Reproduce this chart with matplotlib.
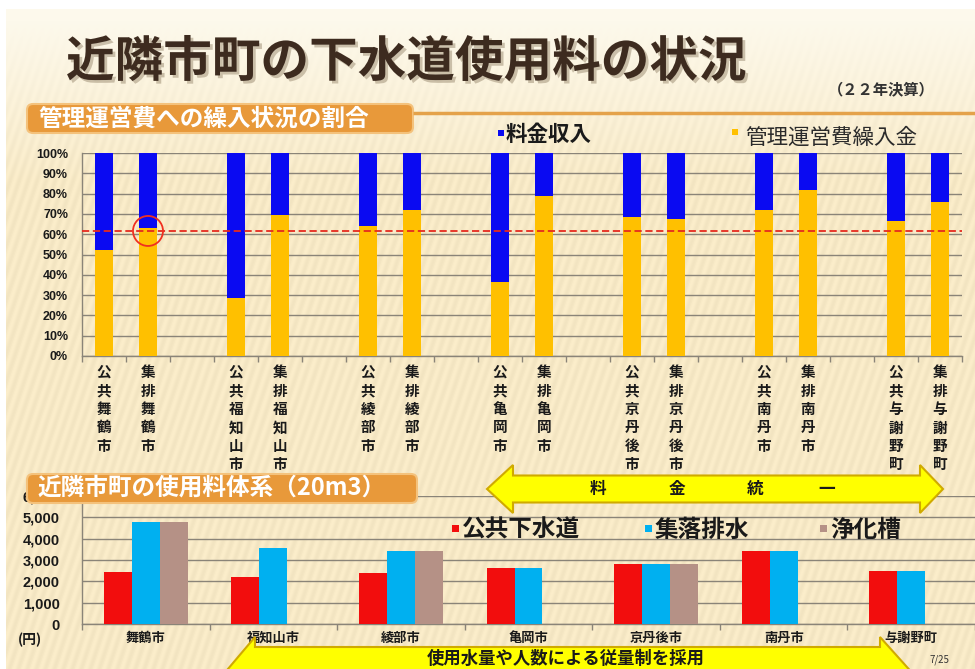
import numpy as np
import matplotlib
matplotlib.use('Agg')
import matplotlib.pyplot as plt
from matplotlib.patches import Rectangle, FancyBboxPatch, Polygon, Ellipse
import matplotlib.patheffects as pe

plt.rcParams['font.family'] = ['Noto Sans CJK JP', 'DejaVu Sans']

W, H = 975, 669

# ---------------- data ----------------
cities = ['舞鶴市', '福知山市', '綾部市', '亀岡市', '京丹後市', '南丹市', '与謝野町']
kinds = ['公共', '集排']
# 管理運営費繰入金 share (%), order: 公共/集排 for each city
transfer_pct = [52, 63, 28.5, 69.5, 64, 72, 36.5, 79, 68.5, 67.5, 72, 82, 66.5, 76]
# 料金収入 share (%)
fee_pct = [48, 37, 71.5, 30.5, 36, 28, 63.5, 21, 31.5, 32.5, 28, 18, 33.5, 24]
ref_line_pct = 61.6
pct_ticks = [0, 10, 20, 30, 40, 50, 60, 70, 80, 90, 100]

# 使用料 (円, 20m3)
sewer_fee = [2440, 2200, 2390, 2630, 2810, 3430, 2490]      # 公共下水道
rural_fee = [4790, 3570, 3430, 2630, 2810, 3430, 2490]      # 集落排水
septic_fee = [4790, np.nan, 3430, np.nan, 2810, np.nan, np.nan]  # 浄化槽
yen_ticks = [0, 1000, 2000, 3000, 4000, 5000, 6000]

# ---------------- colours ----------------
C_BLUE = '#0a0af2'
C_YEL = '#ffc000'
C_RED = '#f20d0d'
C_CYAN = '#00b0f0'
C_BROWN = '#b59186'
C_GRID = '#8a8478'

fig = plt.figure(figsize=(W / 100, H / 100), dpi=100)

# ---------------- background ----------------
bg = fig.add_axes([0, 0, 1, 1], zorder=0)
yy, xx = np.mgrid[0:H, 0:W]
t = np.clip((yy - 20) / 160.0, 0, 1)[..., None]
c1 = np.array([253, 249, 236]) / 255.0
c2 = np.array([247, 233, 198]) / 255.0
img = c1 * (1 - t) + c2 * t
stripe = 0.018 * np.sin(2 * np.pi * (xx + yy / 3.0) / 9.0)
img = np.clip(img + stripe[..., None] * t, 0, 1)
img[:9, :, :] = 1.0
img[:, :6, :] = 1.0
bg.imshow(img, extent=[0, W, H, 0], aspect='auto', interpolation='bilinear')
bg.set_xlim(0, W)
bg.set_ylim(H, 0)
bg.axis('off')

# ---------------- top chart ----------------
ax1 = fig.add_axes([82 / W, 1 - 356 / H, 880 / W, 203 / H], zorder=2)
ax1.patch.set_alpha(0)
pos = [3 * g + j for g in range(len(cities)) for j in range(len(kinds))]
labels_top = ['\n'.join(k + c) for c in cities for k in kinds]
ax1.bar(pos, transfer_pct, width=0.42, color=C_YEL, zorder=3)
ax1.bar(pos, fee_pct, bottom=transfer_pct, width=0.42, color=C_BLUE, zorder=3)
ax1.axhline(ref_line_pct, color='#e52a1e', ls=(0, (4, 2)), lw=1.3, zorder=4)
ax1.add_patch(Ellipse((pos[1], ref_line_pct), width=30 / 44, height=30 / 2.03,
                      fill=False, ec='#f03020', lw=1.3, zorder=5))
ax1.set_xlim(-0.5, 19.5)
ax1.set_ylim(0, 100)
ax1.set_yticks(pct_ticks)
ax1.set_yticklabels([f'{v}%' for v in pct_ticks], fontfamily='Liberation Sans',
                    fontweight='bold', fontsize=9, color='#1a1a1a')
ax1.set_xticks(pos)
ax1.set_xticklabels(labels_top, fontsize=10.5, fontweight='bold', color='#1a1a1a',
                    linespacing=1.18, va='top')
ax1.set_xticks(np.arange(-0.5, 20, 1), minor=True)
ax1.tick_params(axis='x', which='major', length=0, pad=6)
ax1.tick_params(axis='x', which='minor', length=4, color=C_GRID, width=1)
ax1.tick_params(axis='y', length=0, pad=10)
ax1.yaxis.grid(True, color=C_GRID, lw=1.0, zorder=0)
ax1.set_axisbelow(True)
for s in ['top', 'right']:
    ax1.spines[s].set_visible(False)
for s in ['left', 'bottom']:
    ax1.spines[s].set_color(C_GRID)
    ax1.spines[s].set_linewidth(1.0)

# ---------------- bottom chart ----------------
ax2 = fig.add_axes([82 / W, 1 - 624 / H, 893 / W, 128 / H], zorder=2)
ax2.patch.set_alpha(0)
x = np.arange(len(cities))
bw = 0.219
ax2.bar(x - bw, sewer_fee, width=bw, color=C_RED, zorder=3)
ax2.bar(x, rural_fee, width=bw, color=C_CYAN, zorder=3)
ax2.bar(x + bw, septic_fee, width=bw, color=C_BROWN, zorder=3)
ax2.set_xlim(-0.5, 6.35)
ax2.set_ylim(0, 6000)
ax2.set_yticks(yen_ticks)
ax2.set_yticklabels([f'{v:,}' for v in yen_ticks], fontfamily='Liberation Sans',
                    fontweight='bold', fontsize=10.5, color='#1a1a1a')
ax2.set_xticks(x)
ax2.set_xticklabels(cities, fontsize=9.5, fontweight='bold', color='#1a1a1a')
ax2.set_xticks(np.arange(-0.5, 7, 1), minor=True)
ax2.tick_params(axis='x', which='major', length=0, pad=5)
ax2.tick_params(axis='x', which='minor', length=4, color=C_GRID, width=1)
ax2.tick_params(axis='y', length=0, pad=16)
ax2.yaxis.grid(True, color=C_GRID, lw=1.0, zorder=0)
ax2.set_axisbelow(True)
for s in ['top', 'right']:
    ax2.spines[s].set_visible(False)
for s in ['left', 'bottom']:
    ax2.spines[s].set_color(C_GRID)
    ax2.spines[s].set_linewidth(1.0)

# ---------------- overlay (pixel coordinates) ----------------
ov = fig.add_axes([0, 0, 1, 1], zorder=10)
ov.set_xlim(0, W)
ov.set_ylim(H, 0)
ov.axis('off')
ov.patch.set_alpha(0)

# title
ov.text(66, 62, '近隣市町の下水道使用料の状況', fontsize=35, fontweight='bold',
        color='#3d2b1f', ha='left', va='center',
        path_effects=[pe.withSimplePatchShadow(offset=(2, -2), shadow_rgbFace='#9a8a70', alpha=0.5)])
ov.text(828, 89, '（２２年決算）', fontsize=11, fontweight='bold', color='#333333',
        ha='left', va='center')

# section header boxes
for (bx, by, bwid, bh, txt, tx, ty) in [
        (27, 104, 386, 29, '管理運営費への繰入状況の割合', 38, 119),
        (27, 474, 390, 29, '近隣市町の使用料体系（20m3）', 37, 488)]:
    ov.add_patch(FancyBboxPatch((bx, by), bwid, bh,
                                boxstyle='round,pad=0,rounding_size=6',
                                fc='#e8993a', ec='#f4c27c', lw=1.5))
    ov.text(tx, ty, txt, fontsize=17, fontweight='bold', color='white',
            ha='left', va='center')
ov.plot([413, 975], [113, 113], color='#e4a24a', lw=2.5, solid_capstyle='butt')

# top legend
ov.add_patch(Rectangle((498, 130), 6, 6, fc=C_BLUE, ec='none'))
ov.text(506, 134, '料金収入', fontsize=15.5, fontweight='bold', color='#1a1a1a',
        ha='left', va='center')
ov.add_patch(Rectangle((732, 129), 6, 6, fc=C_YEL, ec='none'))
ov.text(745, 138, '管理運営費繰入金', fontsize=15.5, color='#2a2a2a',
        ha='left', va='center')

# bottom legend
for (sx, col, txt) in [(452, C_RED, '公共下水道'), (645, C_CYAN, '集落排水'),
                       (820, C_BROWN, '浄化槽')]:
    ov.add_patch(Rectangle((sx, 525), 7, 7, fc=col, ec='none'))
    ov.text(sx + 10, 530, txt, fontsize=17, fontweight='bold', color='#1a1a1a',
            ha='left', va='center')

# yellow arrow: 料金統一
arrow1 = [(487, 489), (513, 465), (513, 475.5), (920, 475.5), (920, 465), (943, 489),
          (920, 513), (920, 502.5), (513, 502.5), (513, 513)]
ov.add_patch(Polygon(arrow1, closed=True, fc='#ffff00', ec='#d0aa00', lw=1.5))
for (tx, ch) in [(598, '料'), (677, '金'), (755, '統'), (827, '一')]:
    ov.text(tx, 489, ch, fontsize=12, fontweight='bold', color='#1a1a1a',
            ha='center', va='center')

# yellow arrow: 従量制
arrow2 = [(222, 676), (255, 637), (255, 647), (880, 647), (880, 637), (915, 676),
          (880, 715), (880, 705), (255, 705), (255, 715)]
ov.add_patch(Polygon(arrow2, closed=True, fc='#ffff00', ec='#d0aa00', lw=1.5))
ov.text(566, 659, '使用水量や人数による従量制を採用', fontsize=12.5, fontweight='bold',
        color='#1a1a1a', ha='center', va='center')

ov.text(18, 640, '(円)', fontsize=10, fontweight='bold', color='#1a1a1a',
        ha='left', va='center')
ov.text(930, 660, '7/25', fontsize=7, color='#333333', ha='left', va='center')

fig.savefig('out.png', dpi=100)
